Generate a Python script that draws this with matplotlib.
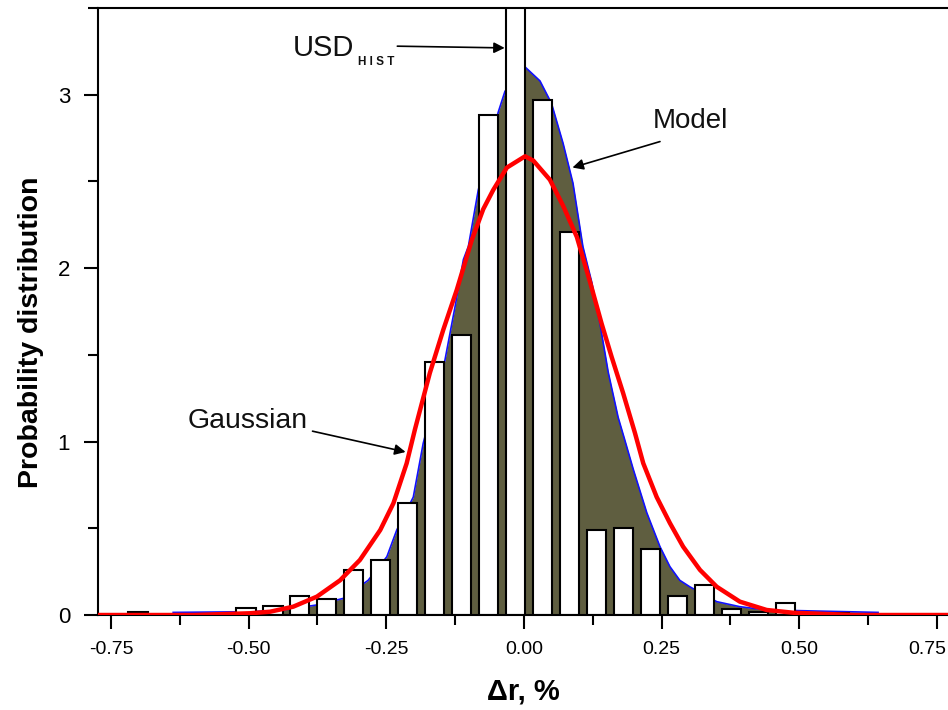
import matplotlib
matplotlib.use("Agg")
import matplotlib.pyplot as plt
from matplotlib.ticker import MultipleLocator, FixedLocator
from matplotlib.transforms import ScaledTranslation

# ---- data ----
bar_centers = [-0.701, -0.505, -0.456, -0.407, -0.358, -0.309, -0.260, -0.211,
               -0.162, -0.113, -0.064, -0.015, 0.034, 0.083, 0.132, 0.181,
               0.230, 0.279, 0.328, 0.377, 0.426, 0.475, 0.524, 0.573]
bar_heights = [0.02, 0.04, 0.05, 0.11, 0.09, 0.26, 0.32, 0.645,
               1.46, 1.615, 2.885, 4.0, 2.97, 2.21, 0.49, 0.50,
               0.38, 0.108, 0.171, 0.036, 0.015, 0.069, 0.01, 0.01]

model_x = [-0.637, -0.4975, -0.437, -0.376, -0.328, -0.283, -0.249, -0.231,
           -0.201, -0.183, -0.1435, -0.134, -0.125, -0.110, -0.101, -0.083,
           -0.0467, -0.0345, 0.002, 0.029, 0.050, 0.071, 0.089, 0.107,
           0.123, 0.138, 0.153, 0.171, 0.183, 0.1985, 0.223, 0.247, 0.265,
           0.283, 0.301, 0.350, 0.392, 0.4407, 0.501, 0.643]
model_y = [0.015, 0.019, 0.029, 0.058, 0.096, 0.20, 0.336, 0.49,
           0.68, 0.99, 1.47, 1.63, 1.78, 2.05, 2.125, 2.45,
           2.90, 3.02, 3.16, 3.08, 2.95, 2.72, 2.49, 2.125,
           1.92, 1.68, 1.40, 1.14, 1.01, 0.84, 0.59, 0.394, 0.279,
           0.20, 0.163, 0.077, 0.048, 0.029, 0.025, 0.015]

gauss_x = [-0.7735, -0.60, -0.4975, -0.461, -0.419, -0.376, -0.334, -0.298,
           -0.261, -0.237, -0.213, -0.198, -0.171, -0.1465, -0.122, -0.095,
           -0.074, -0.056, -0.031, 0.002, 0.017, 0.047, 0.071, 0.096, 0.120,
           0.141, 0.159, 0.180, 0.2015, 0.2166, 0.241, 0.265, 0.289, 0.3196,
           0.350, 0.392, 0.4407, 0.489, 0.60, 0.770]
gauss_y = [0.0, 0.0, 0.01, 0.019, 0.048, 0.106, 0.20, 0.317,
           0.49, 0.645, 0.875, 1.07, 1.395, 1.645, 1.875, 2.16,
           2.34, 2.45, 2.58, 2.645, 2.62, 2.51, 2.36, 2.18, 1.92,
           1.68, 1.49, 1.28, 1.05, 0.875, 0.68, 0.53, 0.394, 0.26,
           0.163, 0.077, 0.029, 0.013, 0.0, 0.0]

x_ticks = [-0.75, -0.50, -0.25, 0.00, 0.25, 0.50, 0.75]
x_tick_labels = ["-0.75", "-0.50", "-0.25", "0.00", "0.25", "0.50", "0.75"]
y_ticks = [0, 1, 2, 3]

FAM = ["Liberation Sans", "DejaVu Sans"]

# ---- figure ----
fig = plt.figure(figsize=(9.48, 7.10), dpi=100)
ax = fig.add_axes([0.1034, 0.1338, 0.8966, 0.8549])

ax.fill_between(model_x, model_y, 0, color="#5f5e40", lw=0, zorder=1)
ax.plot(model_x, model_y, color="#1010ff", lw=1.2, zorder=1.5)
ax.bar(bar_centers, bar_heights, width=0.035, color="white",
       edgecolor="black", linewidth=1.5, zorder=2)
ax.plot(gauss_x, gauss_y, color="#ff0000", lw=3.2, zorder=3,
        solid_joinstyle="round", solid_capstyle="round")

ax.set_xlim(-0.7735, 0.770)
ax.set_ylim(0, 3.5)

for s in ["left", "top", "bottom"]:
    ax.spines[s].set_linewidth(1.5)
ax.spines["right"].set_visible(False)

ax.xaxis.set_major_locator(FixedLocator(x_ticks))
ax.xaxis.set_minor_locator(MultipleLocator(0.125))
ax.yaxis.set_major_locator(FixedLocator(y_ticks))
ax.yaxis.set_minor_locator(MultipleLocator(0.5))
ax.set_xticklabels(x_tick_labels, fontfamily=FAM, fontsize=14)
ax.set_yticklabels([str(v) for v in y_ticks], fontfamily=FAM, fontsize=16)
ax.tick_params(axis="both", which="major", direction="out", length=10,
               width=1.5, pad=9)
ax.tick_params(axis="both", which="minor", direction="out", length=7,
               width=1.5)
ax.tick_params(axis="y", which="major", pad=10)

# nudge the last x tick label so it stays inside the picture
last = ax.get_xticklabels()[-1]
last.set_transform(last.get_transform() +
                   ScaledTranslation(-10 / 100, 0, fig.dpi_scale_trans))

ax.set_xlabel("Δr, %", fontsize=21, fontweight="bold", fontfamily=FAM,
              labelpad=14)
ax.set_ylabel("Probability distribution", fontsize=20.5, fontweight="bold",
              fontfamily=FAM)
ax.yaxis.set_label_coords(-0.064, 0.466)

tfont = dict(fontfamily=FAM, color="#111111")
arrow = dict(arrowstyle="-|>", color="black", lw=1.2, mutation_scale=16,
             shrinkA=0, shrinkB=0)

# USD_HIST label
ax.text(-0.420, 3.27, "USD", fontsize=21, ha="left", va="center", **tfont)
ax.text(-0.302, 3.19, "H I S T", fontsize=8.5, ha="left", va="center",
        fontweight="bold", **tfont)
ax.annotate("", xy=(-0.035, 3.27), xytext=(-0.230, 3.28), arrowprops=arrow)

# Model label
ax.text(0.233, 2.85, "Model", fontsize=20, ha="left", va="center", **tfont)
ax.annotate("", xy=(0.088, 2.58), xytext=(0.247, 2.73), arrowprops=arrow)

# Gaussian label
ax.text(-0.610, 1.12, "Gaussian", fontsize=20.5, ha="left", va="center", **tfont)
ax.annotate("", xy=(-0.215, 0.94), xytext=(-0.384, 1.06), arrowprops=arrow)

fig.savefig("out.png", dpi=100)
